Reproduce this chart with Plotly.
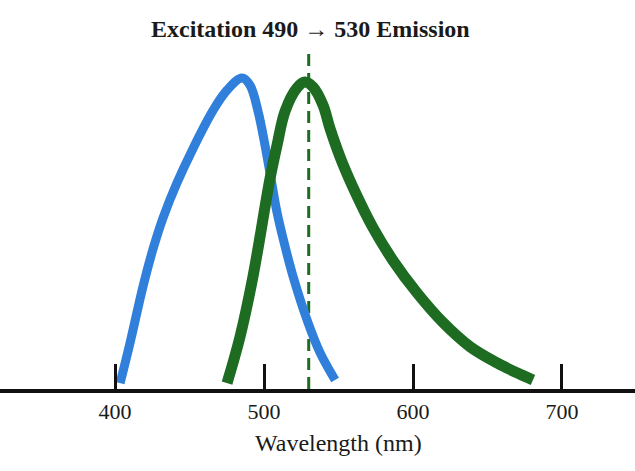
import plotly.graph_objects as go

# Excitation (blue) curve, relative intensity vs wavelength (nm)
exc_wavelength = [403.4, 410.1, 418.8, 425.5, 432.2, 441.6, 452.3, 465.8, 475.2, 485.2,
                  490.6, 496.0, 500.7, 504.7, 508.7, 514.1, 519.5, 529.5, 537.6, 547.7]
exc_intensity = [1.9, 14.9, 33.0, 45.0, 55.0, 66.3, 77.3, 89.6, 96.1, 100,
                 97.7, 89.3, 78.3, 67.6, 56.9, 45.9, 36.2, 21.4, 11.7, 2.9]

# Emission (green) curve
em_wavelength = [475.2, 483.9, 492.6, 504.0, 508.7, 514.1, 522.1, 527.5, 532.9, 539.6,
                 544.3, 552.3, 562.4, 573.2, 586.6, 602.7, 620.1, 638.3, 656.4, 669.8, 680.5]
em_intensity = [1.9, 16.8, 36.2, 67.6, 78.3, 89.3, 96.8, 98.7, 97.1, 91.3,
                83.8, 73.1, 62.1, 51.8, 41.3, 30.9, 21.4, 13.6, 8.4, 5.2, 2.9]

# Emission maximum marker (dashed line)
em_peak_x = [530, 530]
em_peak_y = [0, 110]

tick_values = [400, 500, 600, 700]
tick_labels = ["400", "500", "600", "700"]

title_text = "Excitation 490 \u2192 530 Emission"
xaxis_text = "Wavelength (nm)"

BLUE = "#2f7fdb"
GREEN = "#1e6b22"
FONT = "Liberation Serif"
TXT = "#1a1a1a"

fig = go.Figure()
fig.add_trace(go.Scatter(x=em_peak_x, y=em_peak_y, mode="lines",
                         line=dict(color=GREEN, width=3, dash="12px,7px"),
                         hoverinfo="skip"))
fig.add_trace(go.Scatter(x=exc_wavelength, y=exc_intensity, mode="lines",
                         line=dict(color=BLUE, width=9, shape="spline", smoothing=1.0)))
fig.add_trace(go.Scatter(x=em_wavelength, y=em_intensity, mode="lines",
                         line=dict(color=GREEN, width=11, shape="spline", smoothing=1.0)))

PLOT_H = 389.0
fig.add_annotation(x=531, y=(PLOT_H - 29) / PLOT_H, xref="x", yref="paper", yanchor="middle",
                   text="<b>" + title_text + "</b>", showarrow=False,
                   font=dict(family=FONT, size=24, color=TXT))
fig.add_annotation(x=550, y=(PLOT_H - 443) / PLOT_H, xref="x", yref="paper", yanchor="middle",
                   text=xaxis_text, showarrow=False,
                   font=dict(family=FONT, size=24, color=TXT))

fig.update_layout(
    width=635, height=471,
    margin=dict(l=0, r=0, t=0, b=82),
    paper_bgcolor="white", plot_bgcolor="white",
    showlegend=False,
    xaxis=dict(range=[322.8, 749.0], tickvals=tick_values, ticktext=tick_labels,
               showline=True, linecolor="#111", linewidth=4,
               ticks="inside", ticklen=25, tickwidth=3, tickcolor="#111",
               showgrid=False, zeroline=False,
               tickfont=dict(family=FONT, size=22, color=TXT),
               ticklabelstandoff=0),
    yaxis=dict(range=[0, 125.1], visible=False, showgrid=False, zeroline=False),
)

fig.write_html("out.html")
